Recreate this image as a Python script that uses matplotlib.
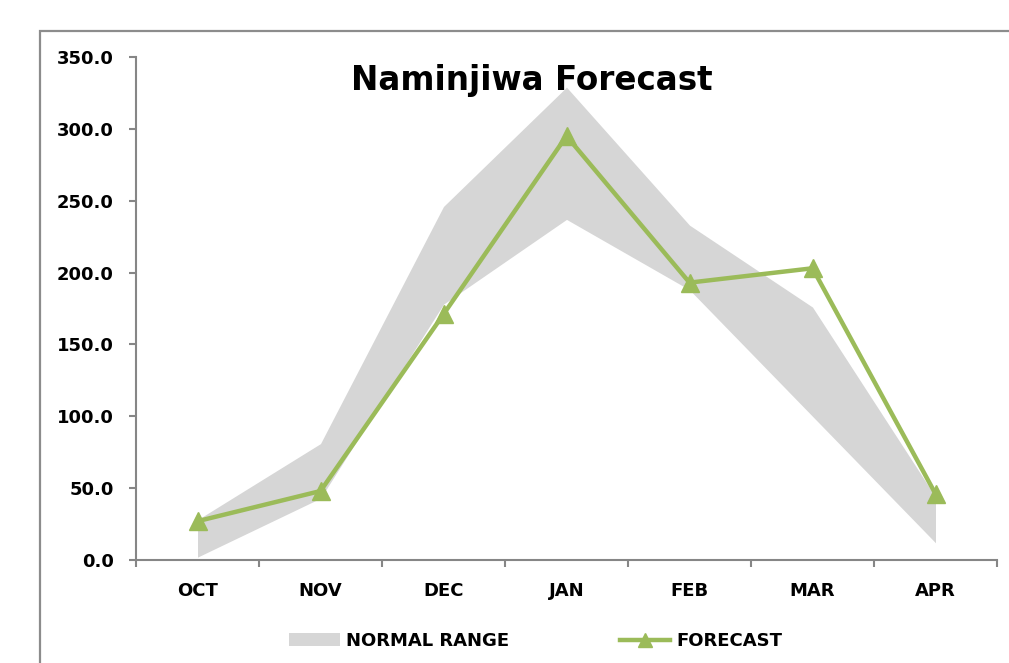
import matplotlib
matplotlib.use('Agg')
import matplotlib.pyplot as plt
from matplotlib.patches import Patch, Rectangle
from matplotlib.lines import Line2D
import numpy as np

months = ['OCT', 'NOV', 'DEC', 'JAN', 'FEB', 'MAR', 'APR']
normal_low = [2, 43, 178, 237, 188, 100, 12]
normal_high = [28, 81, 246, 329, 233, 176, 44]
forecast = [27, 48, 171, 295, 193, 203, 46]
y_ticks = [0, 50, 100, 150, 200, 250, 300, 350]

plt.rcParams['font.family'] = ['DejaVu Sans']
plt.rcParams['font.weight'] = 'bold'

green = '#9BBB59'
grey_fill = '#D6D6D6'
axis_grey = '#868686'

fig = plt.figure(figsize=(10.09, 6.63), dpi=100)
ax = fig.add_axes([136 / 1009, 1 - 560 / 663, (997 - 136) / 1009, (560 - 57) / 663])

# chart frame like the excel chart area
fig.patches.append(Rectangle((40 / 1009, -0.1), 1.2, 1.1 - 31 / 663, transform=fig.transFigure,
                             fill=False, edgecolor='#8C8C8C', linewidth=1.6))

x = np.arange(len(months))
ax.fill_between(x, normal_low, normal_high, color=grey_fill, linewidth=0)
ax.plot(x, forecast, color=green, linewidth=3.2, marker='^', markersize=13,
        markerfacecolor=green, markeredgecolor=green)

ax.set_xlim(-0.5, len(months) - 0.5)
ax.set_ylim(0, 350)
ax.set_yticks(y_ticks)
ax.set_yticklabels(['%.1f' % v for v in y_ticks])
ax.set_xticks(x)
ax.set_xticklabels(months)
ax.set_xticks(np.arange(-0.5, len(months)), minor=True)

for s in ['top', 'right']:
    ax.spines[s].set_visible(False)
for s in ['left', 'bottom']:
    ax.spines[s].set_color(axis_grey)
    ax.spines[s].set_linewidth(1.5)

ax.tick_params(axis='y', length=5, width=1.5, color=axis_grey, pad=11, labelsize=13)
ax.tick_params(axis='x', which='major', length=0, pad=16, labelsize=13)
ax.tick_params(axis='x', which='minor', length=5, width=1.5, color=axis_grey)

fig.text(532 / 1009, 1 - 90 / 663, 'Naminjiwa Forecast', ha='center', va='baseline',
         fontsize=23.5, fontweight='bold')

handles = [Patch(facecolor=grey_fill, edgecolor='none', label='NORMAL RANGE'),
           Line2D([0], [0], color=green, linewidth=3.2, marker='^', markersize=10, label='FORECAST')]
leg = fig.legend(handles=handles, loc='center', bbox_to_anchor=(536 / 1009, 1 - 641 / 663),
                 ncol=2, frameon=False, fontsize=13, handlelength=2.8, handletextpad=0.35,
                 columnspacing=6.1, borderpad=0)

fig.savefig('out.png', dpi=100)
